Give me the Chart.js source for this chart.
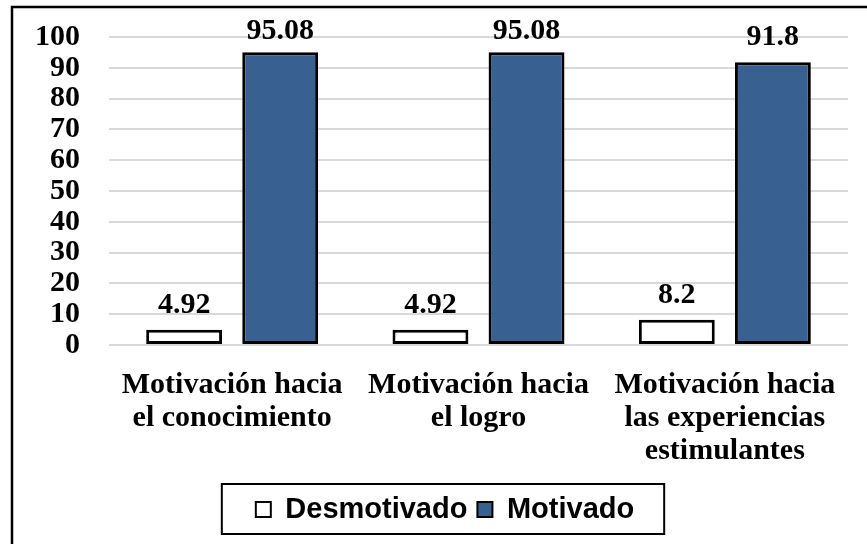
<!DOCTYPE html>
<html>
<head>
<meta charset="utf-8">
<script src="https://cdn.jsdelivr.net/npm/chart.js@4"></script>
<style>
  html, body { margin: 0; padding: 0; background: #fff; }
  canvas { display: block; }
</style>
</head>
<body>
<canvas id="myChart" width="867" height="544"></canvas>
<script>
var categories = [
    ['Motivación hacia', 'el conocimiento'],
    ['Motivación hacia', 'el logro'],
    ['Motivación hacia', 'las experiencias', 'estimulantes']
];
var desmotivado = [4.92, 4.92, 8.2];
var motivado = [95.08, 95.08, 91.8];
var seriesNames = ['Desmotivado', 'Motivado'];
var yTicks = [0, 10, 20, 30, 40, 50, 60, 70, 80, 90, 100];

var serif = "'Liberation Serif', 'Times New Roman', serif";
var sans = "'Liberation Sans', Arial, sans-serif";

var framePlugin = {
    id: 'frame',
    afterUpdate: function(chart){
        // the legend sits a little right of centre in the original
        var lg = chart.legend, shift = 14;
        lg.left += shift;
        lg.right += shift;
        (lg.legendHitBoxes || []).forEach(function(b){ b.left += shift; });
    },
    beforeDraw: function(chart){
        var ctx = chart.ctx;
        ctx.save();
        ctx.fillStyle = '#fff';
        ctx.fillRect(0, 0, chart.width, chart.height);
        // frame: only top and left edges show, the rest is cropped
        ctx.strokeStyle = '#000';
        ctx.lineWidth = 2.5;
        ctx.beginPath();
        ctx.moveTo(12, chart.height);
        ctx.lineTo(12, 7);
        ctx.lineTo(chart.width, 7);
        ctx.stroke();
        ctx.restore();
    },
    afterDraw: function(chart){
        // box round the legend
        var hb = chart.legend.legendHitBoxes;
        if (!hb || !hb.length) return;
        var left = hb[0].left, right = hb[0].left + hb[0].width;
        var top = hb[0].top, bottom = hb[0].top + hb[0].height;
        hb.forEach(function(b){
            left = Math.min(left, b.left);
            right = Math.max(right, b.left + b.width);
        });
        var ctx = chart.ctx;
        ctx.save();
        ctx.strokeStyle = '#000';
        ctx.lineWidth = 2;
        ctx.strokeRect(left - 34, top - 11, (right - left) + 64, (bottom - top) + 21);
        ctx.restore();
    }
};

// value labels above bars
var valueLabels = {
    id: 'valueLabels',
    afterDatasetsDraw: function(chart){
        var ctx = chart.ctx;
        ctx.save();
        ctx.font = 'bold 30px ' + serif;
        ctx.fillStyle = '#000';
        ctx.textAlign = 'center';
        ctx.textBaseline = 'alphabetic';
        chart.data.datasets.forEach(function(ds, i){
            var meta = chart.getDatasetMeta(i);
            meta.data.forEach(function(bar, j){
                var y = Math.max(bar.y - 17, chart.chartArea.top + 2);
                ctx.fillText(String(ds.data[j]), bar.x, y);
            });
        });
        ctx.restore();
    }
};

var context = document.getElementById('myChart');
var chart = new Chart(context, {
    type: 'bar',
    data: {
        labels: categories,
        datasets: [{
            label: seriesNames[0],
            data: desmotivado,
            backgroundColor: '#ffffff',
            borderColor: '#000000',
            borderWidth: 3,
            borderSkipped: false
        }, {
            label: seriesNames[1],
            data: motivado,
            backgroundColor: '#386192',
            borderColor: '#000000',
            borderWidth: 3,
            borderSkipped: false
        }]
    },
    options: {
        responsive: false,
        animation: false,
        layout: {
            padding: { top: 37, left: 14, right: 19, bottom: 10 }
        },
        datasets: {
            bar: { categoryPercentage: 0.78, barPercentage: 0.79 }
        },
        plugins: {
            tooltip: { enabled: false },
            legend: {
                position: 'bottom',
                labels: {
                    color: '#000',
                    font: { family: sans, size: 29, weight: 'bold' },
                    boxWidth: 15,
                    boxHeight: 15,
                    padding: 10,
                    generateLabels: function(chart){
                        var items = Chart.defaults.plugins.legend.labels.generateLabels(chart);
                        items.forEach(function(it){ it.lineWidth = 2; });
                        return items;
                    }
                }
            }
        },
        scales: {
            x: {
                grid: { display: false, drawTicks: false },
                border: { display: false },
                ticks: {
                    color: '#000',
                    padding: 24,
                    maxRotation: 0,
                    autoSkip: false,
                    font: { family: serif, size: 30, weight: 'bold', lineHeight: 1.1 }
                },
                afterFit: function(scale){ scale.height = 140; }
            },
            y: {
                min: 0,
                max: 100,
                afterBuildTicks: function(scale){
                    scale.ticks = yTicks.map(function(v){ return { value: v }; });
                },
                grid: { color: '#d9d9d9', lineWidth: 2, drawTicks: false },
                border: { display: false },
                ticks: {
                    color: '#000',
                    padding: 29,
                    autoSkip: false,
                    font: { family: serif, size: 30, weight: 'bold', lineHeight: 1 }
                },
                afterFit: function(scale){
                    scale.width = 95;
                    scale.paddingTop = 0;
                    scale.paddingBottom = 0;
                }
            }
        }
    },
    plugins: [framePlugin, valueLabels]
});
</script>
</body>
</html>
